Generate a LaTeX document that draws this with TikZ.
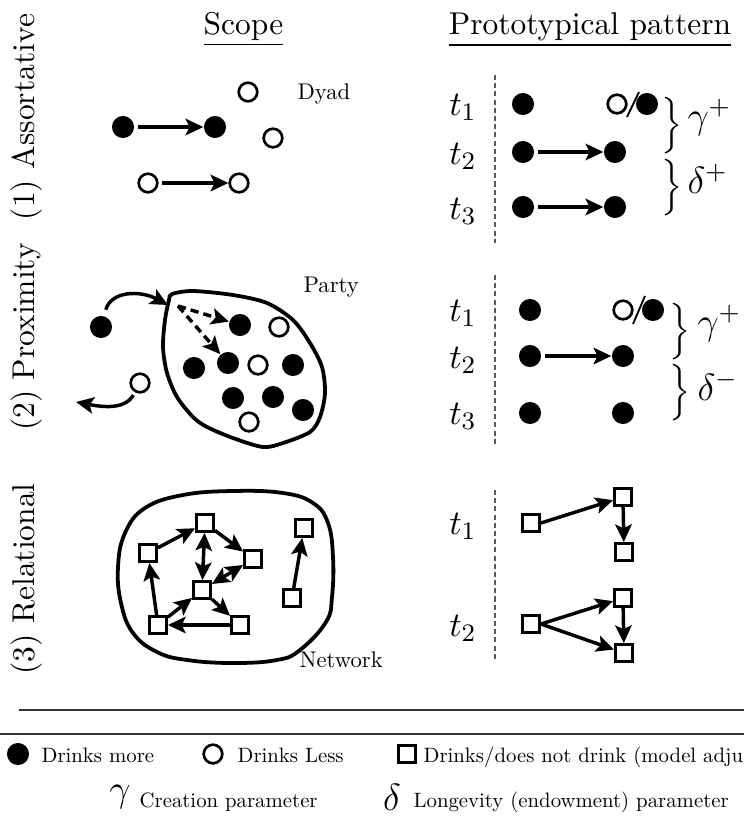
\documentclass[tikz,border=0pt]{standalone}
\usepackage{graphicx}
\usetikzlibrary{arrows.meta}
\begin{document}
\begin{tikzpicture}[x=0.3175pt,y=-0.3175pt,
  fc/.style={circle,fill=black,inner sep=0pt,minimum size=7pt},
  oc/.style={circle,draw=black,line width=0.85pt,fill=white,inner sep=0pt,minimum size=5.9pt},
  sq/.style={rectangle,draw=black,line width=0.8pt,fill=white,inner sep=0pt,minimum size=5.5pt},
  tip/.tip={Stealth[length=5.6pt,width=5.2pt,inset=1.2pt]},
  arr/.style={line width=1.1pt,-tip},
  darr/.style={line width=1.1pt,tip-tip},
  dots/.style={draw=black!65,line width=0.65pt,dash pattern=on 1.6pt off 1pt},
  blob/.style={line width=1.2pt},
  lbl/.style={inner sep=0pt,anchor=base west},
  rowlbl/.style={rotate=90,anchor=base,inner sep=0pt},
  head/.style={anchor=base,inner sep=0pt},
  tl/.style={anchor=base,inner sep=0pt,font=\fontsize{10.95}{13}\selectfont},
  brc/.style={inner sep=0pt},
  par/.style={anchor=base west,inner sep=0pt,font=\large},
  rule/.style={draw=black!80,line width=0.45pt},
]
\useasboundingbox (0,0) rectangle (744,821);
\clip (0,0) rectangle (744,821);

% row labels and headings
\node[rowlbl] (r1) at (35,117) {(1) Assortative};
\node[rowlbl] (r2) at (35,337) {(2) Proximity};
\node[rowlbl] (r3) at (35,579) {(3) Relational};
\node[head] (hs) at (243.5,34) {\underline{Scope}};
\node[head] (hp) at (590,34) {\underline{Prototypical pattern}};

% ---------- Row 1 scope (dyad)
\node[fc] (a1) at (123,127) {};
\node[fc] (a2) at (215,127) {};
\node[oc] (a3) at (248,92) {};
\node[oc] (a4) at (273,138) {};
\node[oc] (a5) at (148,183) {};
\node[oc] (a6) at (239,183) {};
\draw[arr,shorten <=1pt] (a1) -- (a2);
\draw[arr,shorten <=1pt] (a5) -- (a6);
\node[lbl] (dyad) at (297,99) {\scalebox{0.72}{Dyad}};

% ---------- Row 1 pattern
\coordinate (v1t) at (495,75);
\coordinate (v1b) at (495,243);
\draw[dots] (v1t) -- (v1b);
\node[tl] (p1t1) at (463,115) {$t_1$};
\node[tl] (p1t2) at (463,164) {$t_2$};
\node[tl] (p1t3) at (463,219) {$t_3$};
\node[fc] (p1a) at (523,104) {};
\node[oc] (p1b) at (617,104) {};
\node[fc] (p1c) at (647,104) {};
\draw[line width=0.6pt] (p1b) ++(10,13) -- ++(12,-25);
\node[fc] (p1d) at (523,152) {};
\node[fc] (p1e) at (615,152) {};
\node[fc] (p1f) at (523,207) {};
\node[fc] (p1g) at (615,207) {};
\draw[arr,shorten <=1pt] (p1d) -- (p1e);
\draw[arr,shorten <=1pt] (p1f) -- (p1g);
\node[brc] (p1br1) at (672,126) {$\Big\}$};
\node[par] (p1gam) at (687,128) {$\gamma^{+}$};
\node[brc] (p1br2) at (672,188) {$\Big\}$};
\node[par] (p1del) at (687,193) {$\delta^{+}$};

% ---------- Row 2 scope (party)
\draw[blob] plot[smooth cycle,tension=0.5] coordinates {(172,294) (193,291) (233,295) (267,303) (293,320) (310,343) (322,367) (325,393) (320,417) (310,432) (283,443) (263,447) (233,438) (207,427) (193,417) (177,397) (167,373) (163,347) (165,320) (169,300)};
\node[fc] (pf1) at (101,327) {};
\node[oc] (po1) at (140,383) {};
\node[fc] (pi1) at (240,325) {};
\node[fc] (pi2) at (194,368) {};
\node[fc] (pi3) at (228,363) {};
\node[fc] (pi4) at (293,365) {};
\node[fc] (pi5) at (233,398) {};
\node[fc] (pi6) at (273,397) {};
\node[fc] (pi7) at (303,410) {};
\node[oc] (pj1) at (279,327) {};
\node[oc] (pj2) at (258,365) {};
\node[oc] (pj3) at (249,422) {};
\coordinate (pin) at (168,305);
\coordinate (pout) at (76,402);
\coordinate (pd) at (178,306);
\draw[arr,shorten <=2pt] (pf1) .. controls +(10,-36) and +(-28,-15) .. (pin);
\draw[arr,shorten <=1pt] (po1) .. controls +(-15,27) and +(26,5) .. (pout);
\draw[arr,dash pattern=on 2.6pt off 1.6pt] (pd) -- (pi1);
\draw[arr,dash pattern=on 2.6pt off 1.6pt] (pd) -- (pi3);
\node[lbl] (party) at (303,292) {\scalebox{0.72}{Party}};

% ---------- Row 2 pattern
\coordinate (v2t) at (495,275);
\coordinate (v2b) at (495,445);
\draw[dots] (v2t) -- (v2b);
\node[tl] (p2t1) at (463,321) {$t_1$};
\node[tl] (p2t2) at (463,368) {$t_2$};
\node[tl] (p2t3) at (463,424) {$t_3$};
\node[fc] (p2a) at (530,310) {};
\node[oc] (p2b) at (623,310) {};
\node[fc] (p2c) at (653,310) {};
\draw[line width=0.6pt] (p2b) ++(10,14) -- ++(12,-28);
\node[fc] (p2d) at (530,356) {};
\node[fc] (p2e) at (623,356) {};
\node[fc] (p2f) at (530,413) {};
\node[fc] (p2g) at (623,413) {};
\draw[arr,shorten <=1pt] (p2d) -- (p2e);
\node[brc] (p2br1) at (680,332) {$\Big\}$};
\node[par] (p2gam) at (697,334) {$\gamma^{+}$};
\node[brc] (p2br2) at (680,393) {$\Big\}$};
\node[par] (p2del) at (697,400) {$\delta^{-}$};

% ---------- Row 3 scope (network)
\draw[blob] plot[smooth cycle,tension=0.7] coordinates {(118,567) (125,533) (145,508) (183,495) (233,491) (283,493) (313,503) (328,523) (333,557) (332,597) (326,622) (300,650) (277,660) (233,663) (187,660) (157,652) (133,633) (121,603)};
\node[sq] (nA) at (205,523) {};
\node[sq] (nB) at (148,553) {};
\node[sq] (nC) at (253,559) {};
\node[sq] (nD) at (202,590) {};
\node[sq] (nE) at (158,625) {};
\node[sq] (nF) at (240,625) {};
\node[sq] (nG) at (304,528) {};
\node[sq] (nH) at (292,598) {};
\draw[arr] (nB) -- (nA);
\draw[arr] (nA) -- (nC);
\draw[darr] (nA) -- (nD);
\draw[darr] (nD) -- (nC);
\draw[arr] (nD) -- (nF);
\draw[arr] (nF) -- (nE);
\draw[arr] (nE) -- (nD);
\draw[arr] (nE) -- (nB);
\draw[arr] (nH) -- (nG);
\node[lbl] (network) at (299,667) {\scalebox{0.72}{Network}};

% ---------- Row 3 pattern
\coordinate (v3t) at (495,490);
\coordinate (v3b) at (495,660);
\draw[dots] (v3t) -- (v3b);
\node[tl] (p3t1) at (463,534) {$t_1$};
\node[tl] (p3t2) at (463,636) {$t_2$};
\node[sq] (q1a) at (531,523) {};
\node[sq] (q1b) at (623,497) {};
\node[sq] (q1c) at (624,552) {};
\node[sq] (q2a) at (531,624) {};
\node[sq] (q2b) at (623,598) {};
\node[sq] (q2c) at (624,653) {};
\draw[arr] (q1a.east) -- (q1b);
\draw[arr] (q1b) -- (q1c);
\draw[arr] (q2a.east) -- (q2b);
\draw[arr] (q2a.east) -- (q2c);
\draw[arr] (q2b) -- (q2c);

% ---------- Legend
\coordinate (l1a) at (19,710);
\coordinate (l1b) at (744,710);
\coordinate (l2a) at (0,734);
\coordinate (l2b) at (744,734);
\draw[rule] (l1a) -- (l1b);
\draw[rule] (l2a) -- (l2b);
\node[fc] (kfc) at (18,754) {};
\node[lbl] (kfct) at (41,762) {\scalebox{0.66}{Drinks more}};
\node[oc] (koc) at (213,754) {};
\node[lbl] (koct) at (237,762) {\scalebox{0.66}{Drinks Less}};
\node[sq,minimum size=5.3pt] (ksq) at (407,754) {};
\node[lbl] (ksqt) at (423,762) {\scalebox{0.66}{Drinks/does not drink (model adju}};
\node[anchor=base,inner sep=0pt,font=\large] (kgam) at (120,801) {$\gamma$};
\node[lbl] (kgamt) at (139,807) {\scalebox{0.66}{Creation parameter}};
\node[anchor=base,inner sep=0pt,font=\large] (kdel) at (392,810) {$\delta$};
\node[lbl] (kdelt) at (413,807) {\scalebox{0.66}{Longevity (endowment) parameter}};
\end{tikzpicture}
\end{document}
